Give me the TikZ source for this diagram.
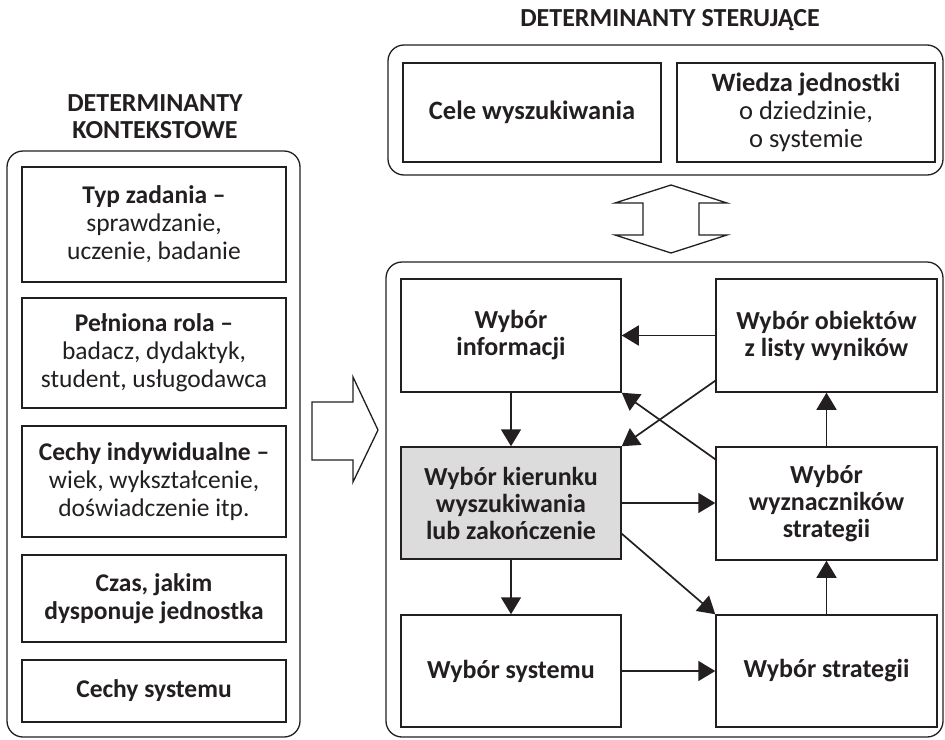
\documentclass[tikz,border=0pt]{standalone}
\usepackage{fontspec}
\setmainfont{Carlito}
\usetikzlibrary{arrows.meta,calc}
\definecolor{ink}{HTML}{231F20}
\definecolor{shade}{HTML}{DCDCDC}

\begin{document}
\begin{tikzpicture}[x=1pt,y=-1pt,
  every node/.style={text=ink},
  frame/.style={draw=ink, line width=1.3pt, rounded corners=16pt, inner sep=0pt},
  item/.style={draw=ink, line width=1.5pt, align=center, inner sep=0pt,
    minimum width=264pt, font=\fontsize{25.5}{28}\selectfont},
  stage/.style={draw=ink, line width=1.5pt, align=center, inner sep=0pt,
    minimum width=220pt, minimum height=113pt,
    font=\fontsize{26}{27}\selectfont\bfseries},
  goal/.style={draw=ink, line width=1.5pt, align=center, inner sep=0pt,
    minimum width=258pt, minimum height=99pt, font=\fontsize{26.5}{28}\selectfont},
  flow/.style={draw=ink, line width=1.7pt, -{Triangle[length=17pt,width=20pt]}},
  heading/.style={font=\fontsize{26}{27}\selectfont\bfseries, align=center},
  bigarrow/.style={draw=ink, line width=1.3pt, line join=miter}
]
\useasboundingbox (0,0) rectangle (945,739);

% --- context determinants (left column) ---
\node[heading] (ctxhead) at (155,117) {DETERMINANTY\\KONTEKSTOWE};
\node[frame, minimum width=293pt, minimum height=586pt] (ctx) at (153.5,444) {};
\node[item, minimum height=115pt] (task) at (154,224.5)
  {\textbf{Typ zadania –}\\sprawdzanie,\\uczenie, badanie};
\node[item, minimum height=110pt] (role) at (154,353)
  {\textbf{Pełniona rola –}\\badacz, dydaktyk,\\student, usługodawca};
\node[item, minimum height=111pt] (trait) at (154,481.5)
  {\textbf{Cechy indywidualne –}\\wiek, wykształcenie,\\doświadczenie itp.};
\node[item, minimum height=87pt, font=\fontsize{25.5}{28}\selectfont\bfseries] (time) at (154,598.5)
  {Czas, jakim\\dysponuje jednostka};
\node[item, minimum height=62pt, font=\fontsize{25.5}{28}\selectfont\bfseries] (sysfeat) at (154,691)
  {Cechy systemu};

% hollow arrow pointing right
\draw[bigarrow] (312,402) -- (353,402) -- (353,377) -- (378,430)
  -- (353,482) -- (353,460) -- (312,460) -- cycle;

% --- steering determinants (top right) ---
\node[heading] (steerhead) at (670,20) {DETERMINANTY STERUJĄCE};
\node[frame, minimum width=555pt, minimum height=130pt] (steer) at (665.5,110) {};
\node[goal, font=\fontsize{26.5}{28}\selectfont\bfseries] (goals) at (532,112.5) {Cele wyszukiwania};
\node[goal] (know) at (806,112.5)
  {\textbf{Wiedza jednostki}\\o dziedzinie,\\o systemie};

% hollow double arrow
\draw[bigarrow] (671,185) -- (727,203) -- (699,203) -- (699,235) -- (727,235)
  -- (671,253) -- (615,235) -- (643,235) -- (643,203) -- (615,203) -- cycle;

% --- search process (bottom right) ---
\node[frame, minimum width=557pt, minimum height=475pt] (proc) at (664.5,499.5) {};
\node[stage] (info)  at (511,335.5) {Wybór\\informacji};
\node[stage, minimum width=221pt] (obj) at (826.5,335.5) {Wybór obiektów\\z listy wyników};
\node[stage, fill=shade, minimum height=112pt] (dir) at (511,503) {Wybór kierunku\\wyszukiwania\\lub zakończenie};
\node[stage, minimum width=221pt] (det) at (826.5,503.5) {Wybór\\wyznaczników\\strategii};
\node[stage, minimum height=112pt] (sys) at (511,671) {Wybór systemu};
\node[stage, minimum width=221pt, minimum height=112pt] (strat) at (826.5,671) {Wybór strategii};

\draw[flow] (obj.west) -- (info.east);
\draw[flow] (info.south) -- (dir.north);
\draw[flow] ($(obj.south west)+(0,-12)$) -- (dir.north east);
\draw[flow] ($(det.north west)+(0,13)$) -- (info.south east);
\draw[flow] (dir.east) -- (det.west |- dir.east);
\draw[flow] ($(dir.south east)+(0,-26)$) -- (strat.north west);
\draw[flow] (dir.south) -- (sys.north);
\draw[flow] (sys.east) -- (strat.west);
\draw[flow] (strat.north) -- (det.south);
\draw[flow] (det.north) -- (obj.south);
\end{tikzpicture}
\end{document}
